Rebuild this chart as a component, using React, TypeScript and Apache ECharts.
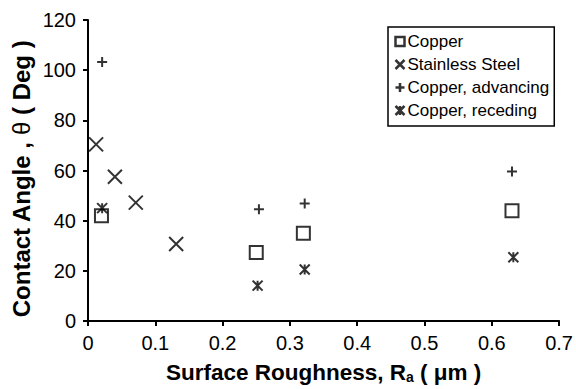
import React, { useEffect, useRef } from "react";
import * as echarts from "echarts";

const copper: [number, number][] = [[0.02, 42], [0.25, 27.3], [0.32, 35], [0.63, 44]];
const stainless: [number, number][] = [[0.012, 70.4], [0.04, 57.5], [0.071, 47.2], [0.131, 30.7]];
const advancing: [number, number][] = [[0.021, 103.3], [0.254, 44.6], [0.322, 46.8], [0.63, 59.6]];
const receding: [number, number][] = [[0.021, 45], [0.252, 14.1], [0.322, 20.5], [0.632, 25.4]];

const xTicks = { min: 0, max: 0.7, interval: 0.1 };
const yTicks = { min: 0, max: 120, interval: 20 };

const FONT = "'Liberation Sans', Arial, Helvetica, sans-serif";

const SQUARE = "path://M0,0H10V10H0Z";
const CROSS = "path://M0,0L10,10M10,0L0,10";
const PLUS = "path://M5,0V10M0,5H10";
const STAR = "path://M0,0L10,10M10,0L0,10M5,0V10";

function mk(name: string, data: [number, number][], symbol: string, size: number) {
  return {
    type: "scatter",
    name,
    data,
    symbol,
    symbolSize: size,
    itemStyle: { color: "none", borderColor: "#000", borderWidth: 2 },
    emphasis: { disabled: true },
  };
}

export default function App() {
  const ref = useRef<HTMLDivElement>(null);
  useEffect(() => {
    if (!ref.current) return;
    const chart = echarts.init(ref.current, undefined, { renderer: "svg" });
    const axisCommon = {
      axisLine: { show: true, lineStyle: { color: "#000", width: 2 } },
      axisTick: { show: true, inside: false, length: 5, lineStyle: { color: "#000", width: 2 } },
      splitLine: { show: false },
      axisLabel: { color: "#000", fontSize: 20, fontFamily: FONT },
    };
    chart.setOption({
      animation: false,
      backgroundColor: "#fff",
      grid: { left: 88, top: 20, right: 13, bottom: 62, containLabel: false },
      xAxis: {
        type: "value",
        ...xTicks,
        ...axisCommon,
        axisLabel: {
          ...axisCommon.axisLabel,
          margin: 12,
          formatter: (v: number) => (v === 0 ? "0" : v.toFixed(1)),
        },
        name: "{b|Surface Roughness, R}{s|a}{b| ( μm )}",
        nameLocation: "middle",
        nameGap: 40,
        nameTextStyle: {
          color: "#000",
          rich: {
            b: { fontFamily: FONT, fontWeight: "bold", fontSize: 22.5, color: "#000" },
            s: { fontFamily: FONT, fontWeight: "bold", fontSize: 14, color: "#000", verticalAlign: "bottom", padding: [9, 0, 0, 0] },
          },
        },
      },
      yAxis: {
        type: "value",
        ...yTicks,
        ...axisCommon,
        axisLabel: { ...axisCommon.axisLabel, margin: 12 },
      },
      graphic: [
        {
          type: "text",
          x: 21,
          y: 179,
          rotation: Math.PI / 2,
          style: {
            text: "{b|Contact Angle , }{t|θ}{b| ( Deg )}",
            align: "center",
            verticalAlign: "middle",
            fill: "#000",
            rich: {
              b: { fontFamily: FONT, fontWeight: "bold", fontSize: 24, fill: "#000" },
              t: { fontFamily: FONT, fontWeight: "normal", fontSize: 24, fill: "#000" },
            },
          },
        },
      ],
      legend: {
        orient: "vertical",
        left: 388,
        top: 27,
        borderColor: "#000",
        borderWidth: 1.5,
        padding: [6, 5, 7, 5],
        itemGap: 6,
        itemWidth: 9,
        itemHeight: 9,
        itemStyle: { borderWidth: 2.5 },
        textStyle: { color: "#000", fontSize: 17, fontFamily: FONT, padding: [0, 0, 0, -2] },
        data: ["Copper", "Stainless Steel", "Copper, advancing", "Copper, receding"],
      },
      series: [
        mk("Copper", copper, SQUARE, 13),
        mk("Stainless Steel", stainless, CROSS, 14),
        mk("Copper, advancing", advancing, PLUS, 10),
        mk("Copper, receding", receding, STAR, 10),
      ],
    });
    return () => chart.dispose();
  }, []);
  return <div ref={ref} style={{ width: 576, height: 389, position: "absolute", left: 0, top: 0 }} />;
}
